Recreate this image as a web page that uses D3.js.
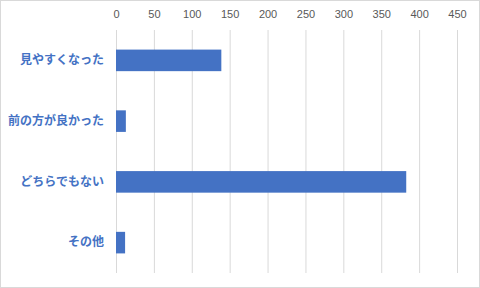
<!DOCTYPE html>
<html>
<head>
<meta charset="utf-8">
<script src="https://cdn.jsdelivr.net/npm/d3@7"></script>
<style>
  body { margin: 0; background: #fff; }
  svg { display: block; }
</style>
</head>
<body>
<div id="chart"></div>
<script>
// data
var categories = ["見やすくなった", "前の方が良かった", "どちらでもない", "その他"];
var values = [139, 13, 383, 12];
var ticks = [0, 50, 100, 150, 200, 250, 300, 350, 400, 450];

var W = 480, H = 288;
var margin = {top: 30, right: 23, bottom: 15, left: 116};
var width = W - margin.left - margin.right,
    height = H - margin.top - margin.bottom;

var svg = d3.select("#chart")
    .append("svg")
    .attr("width", W)
    .attr("height", H);

// chart border
svg.append("rect")
    .attr("x", 0.5).attr("y", 0.5)
    .attr("width", W - 1).attr("height", H - 1)
    .attr("fill", "#fff")
    .attr("stroke", "#d9d9d9");

var g = svg.append("g")
    .attr("transform", "translate(" + margin.left + "," + margin.top + ")");

var x = d3.scaleLinear()
    .domain([0, 450])
    .range([0, 341]);

var y = d3.scaleBand()
    .domain(categories)
    .range([0, height])
    .paddingInner(0.645)
    .paddingOuter(0.3225);

// gridlines + top tick labels
var xAxis = g.append("g")
    .call(d3.axisTop(x).tickValues(ticks).tickSize(-height).tickPadding(12));
xAxis.select(".domain").remove();
xAxis.selectAll(".tick line").attr("stroke", "#d9d9d9");
xAxis.selectAll(".tick text")
    .attr("fill", "#595959")
    .style("font-family", "'Liberation Sans', Arial, sans-serif")
    .style("font-size", "11px");

// category labels
var yAxis = g.append("g")
    .call(d3.axisLeft(y).tickSize(0).tickPadding(12));
yAxis.select(".domain").remove();
yAxis.selectAll(".tick text")
    .attr("fill", "#4472c4")
    .style("font-family", "'Noto Sans CJK JP', sans-serif")
    .style("font-weight", "bold")
    .style("font-size", "12px");

// bars
g.selectAll("rect.bar")
    .data(values)
    .enter().append("rect")
    .attr("class", "bar")
    .attr("x", x(0))
    .attr("y", function(d, i) { return y(categories[i]); })
    .attr("width", function(d) { return x(d) - x(0); })
    .attr("height", y.bandwidth())
    .attr("fill", "#4472c4");
</script>
</body>
</html>
